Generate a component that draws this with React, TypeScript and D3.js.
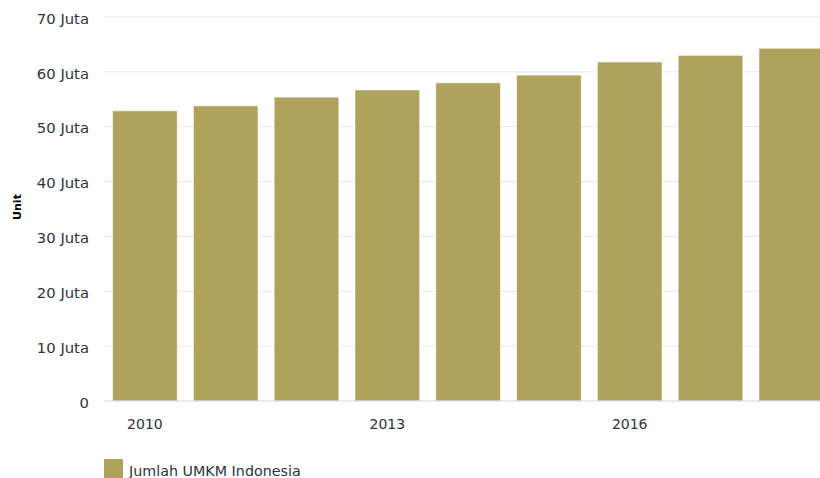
import React from "react";
import * as d3 from "d3";

const years: string[] = ["2010", "2011", "2012", "2013", "2014", "2015", "2016", "2017", "2018"];
const umkm: number[] = [52.9, 53.8, 55.4, 56.7, 58.0, 59.4, 61.8, 63.0, 64.3];
const yTicks: number[] = [0, 10, 20, 30, 40, 50, 60, 70];
const xTickLabels: string[] = ["2010", "2013", "2016"];
const seriesName = "Jumlah UMKM Indonesia";
const yTitle = "Unit";

const W = 820;
const H = 478;
const FONT = "'DejaVu Sans', Verdana, sans-serif";
const BAR = "#afa25d";
const TXT = "#2f3340";

export default function App() {
  const x = d3
    .scaleBand<string>()
    .domain(years)
    .range([104.5, 104.5 + 80.8 * 9])
    .paddingInner(0.2)
    .paddingOuter(0.1);
  const y = d3.scaleLinear().domain([0, 70]).range([401, 17]);
  const fmt = (v: number) => (v === 0 ? "0" : `${v} Juta`);

  return (
    <svg
      width={W}
      height={H}
      style={{ position: "fixed", left: 0, top: 0, background: "#fff" }}
      fontFamily={FONT}
    >
      <rect x={0} y={0} width={W} height={H} fill="#fff" />
      {yTicks
        .filter((t) => t > 0)
        .map((t) => (
          <line key={t} x1={104} x2={W} y1={y(t)} y2={y(t)} stroke="#e6e6e6" strokeWidth={1} />
        ))}
      {yTicks.map((t) => (
        <text
          key={"l" + t}
          x={89}
          y={y(t) + 1.5}
          dy="0.35em"
          textAnchor="end"
          fontSize={14.8}
          fill={TXT}
        >
          {fmt(t)}
        </text>
      ))}
      <text
        transform={`translate(21,207) rotate(-90)`}
        textAnchor="middle"
        fontSize={11}
        fontWeight="bold"
        fill="#000"
      >
        {yTitle}
      </text>
      {years.map((yr, i) => (
        <rect
          key={yr}
          x={x(yr)!}
          y={y(umkm[i])}
          width={x.bandwidth()}
          height={y(0) - y(umkm[i])}
          fill={BAR}
          stroke="rgba(255,255,255,0.55)"
          strokeWidth={1}
        />
      ))}
      <line x1={104} x2={W} y1={401} y2={401} stroke="#ccd6eb" strokeWidth={1} />
      {xTickLabels.map((lbl) => (
        <text
          key={lbl}
          x={x(lbl)! + x.bandwidth() / 2}
          y={429}
          textAnchor="middle"
          fontSize={14}
          fill={TXT}
        >
          {lbl}
        </text>
      ))}
      <rect x={104} y={459} width={19} height={19} fill={BAR} />
      <text x={129} y={476} fontSize={14.3} fill={TXT}>
        {seriesName}
      </text>
    </svg>
  );
}
